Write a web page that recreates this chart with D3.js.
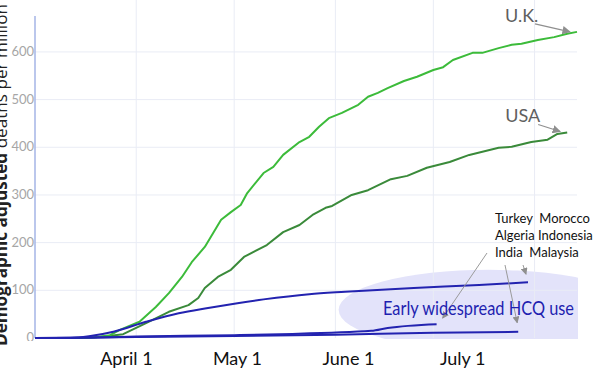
<!DOCTYPE html>
<html>
<head>
<meta charset="utf-8">
<script src="https://cdn.jsdelivr.net/npm/d3@7"></script>
<style>
  body { margin: 0; background: #fff; }
  svg { display: block; }
</style>
</head>
<body>
<div id="container"></div>
<script>
// values (deaths per million, demographic adjusted)
const uk = [
  ["2020-03-01", 0], ["2020-03-15", 0], ["2020-03-19", 1], ["2020-03-24", 6], ["2020-03-27", 17],
  ["2020-04-02", 34], ["2020-04-07", 65], ["2020-04-11", 94], ["2020-04-15", 128], ["2020-04-18", 159],
  ["2020-04-22", 191], ["2020-04-27", 248], ["2020-04-30", 264], ["2020-05-03", 279], ["2020-05-05", 304],
  ["2020-05-10", 346], ["2020-05-13", 359], ["2020-05-16", 384], ["2020-05-21", 411], ["2020-05-24", 422],
  ["2020-05-27", 443], ["2020-05-30", 461], ["2020-06-03", 472], ["2020-06-08", 489], ["2020-06-11", 506],
  ["2020-06-14", 514], ["2020-06-17", 524], ["2020-06-22", 539], ["2020-06-26", 548], ["2020-07-01", 562],
  ["2020-07-04", 568], ["2020-07-07", 583], ["2020-07-13", 598], ["2020-07-16", 598], ["2020-07-21", 608],
  ["2020-07-25", 615], ["2020-07-28", 617], ["2020-08-02", 625], ["2020-08-07", 631], ["2020-08-11", 638],
  ["2020-08-14", 642]
];
const usa = [
  ["2020-03-01", 0], ["2020-03-15", 0], ["2020-03-21", 2], ["2020-03-28", 8], ["2020-04-04", 31],
  ["2020-04-11", 55], ["2020-04-17", 69], ["2020-04-20", 84], ["2020-04-22", 105], ["2020-04-26", 128],
  ["2020-04-30", 143], ["2020-05-04", 170], ["2020-05-11", 195], ["2020-05-16", 222], ["2020-05-21", 237],
  ["2020-05-25", 258], ["2020-05-29", 273], ["2020-05-31", 277], ["2020-06-06", 300], ["2020-06-11", 310],
  ["2020-06-18", 333], ["2020-06-23", 340], ["2020-06-29", 357], ["2020-07-06", 369], ["2020-07-12", 384],
  ["2020-07-21", 399], ["2020-07-25", 401], ["2020-07-31", 411], ["2020-08-05", 416], ["2020-08-08", 428],
  ["2020-08-11", 431]
];
// early widespread HCQ countries
const hcqHigh = [
  ["2020-03-01", 0], ["2020-03-12", 0], ["2020-03-18", 4], ["2020-03-25", 13], ["2020-04-04", 34],
  ["2020-04-14", 52], ["2020-04-23", 63], ["2020-05-02", 73], ["2020-05-10", 81], ["2020-05-24", 92],
  ["2020-06-04", 97], ["2020-06-25", 105], ["2020-07-15", 111], ["2020-07-30", 117]
];
const hcqMid = [
  ["2020-03-01", 0], ["2020-03-20", 1], ["2020-04-01", 3], ["2020-05-01", 6], ["2020-05-15", 8],
  ["2020-06-12", 15], ["2020-06-17", 21], ["2020-07-02", 29]
];
const hcqLow = [
  ["2020-03-01", 0], ["2020-03-20", 1], ["2020-04-01", 2], ["2020-05-01", 4], ["2020-06-01", 7],
  ["2020-07-01", 11], ["2020-07-27", 13]
];

const yTicks = [0, 100, 200, 300, 400, 500, 600];
const xLabels = ["April 1", "May 1", "June 1", "July 1"];
const xLabelAt = ["2020-03-29", "2020-05-02", "2020-06-05", "2020-07-10"];
const countryLines = ["Turkey  Morocco", "Algeria Indonesia", "India  Malaysia"];

const w = 600;
const h = 384;
const parse = d3.timeParse("%Y-%m-%d");

const xScale = d3.scaleTime()
  .domain([parse("2020-03-01"), parse("2020-08-14")])
  .range([35, 577]);

const yScale = d3.scaleLinear()
  .domain([0, 690])
  .range([338, 9]);

const svg = d3.select("#container")
  .append("svg")
  .attr("width", w)
  .attr("height", h)
  .attr("viewBox", `0 0 ${w} ${h}`);

const defs = svg.append("defs");
defs.append("marker")
  .attr("id", "head")
  .attr("viewBox", "0 0 10 10")
  .attr("refX", 9)
  .attr("refY", 5)
  .attr("markerWidth", 7)
  .attr("markerHeight", 7)
  .attr("orient", "auto")
  .append("path")
  .attr("d", "M0,0 L10,5 L0,10 z")
  .attr("fill", "#8f8f8f");

defs.append("clipPath")
  .attr("id", "plot")
  .append("rect")
  .attr("x", 35)
  .attr("y", 0)
  .attr("width", 543)
  .attr("height", 339);

defs.append("clipPath")
  .attr("id", "ticks")
  .append("rect")
  .attr("x", 0)
  .attr("y", 0)
  .attr("width", 40)
  .attr("height", 341);

// HCQ highlight oval
svg.append("ellipse")
  .attr("clip-path", "url(#plot)")
  .attr("cx", xScale(parse("2020-07-18")))
  .attr("cy", yScale(59))
  .attr("rx", xScale(parse("2020-09-02")) - xScale(parse("2020-07-18")))
  .attr("ry", yScale(0) - yScale(84))
  .attr("fill", "#e3e3fa");

// grid
svg.append("g")
  .selectAll("line")
  .data(yTicks.slice(1))
  .join("line")
  .attr("x1", 35)
  .attr("x2", 577)
  .attr("y1", (d) => yScale(d))
  .attr("y2", (d) => yScale(d))
  .attr("stroke", "#e9ecf5")
  .attr("stroke-width", 1);

svg.append("g")
  .selectAll("line")
  .data(xScale.ticks(d3.timeMonth.every(1)).filter((d) => d.getMonth() > 2))
  .join("line")
  .attr("x1", (d) => xScale(d))
  .attr("x2", (d) => xScale(d))
  .attr("y1", 0)
  .attr("y2", 338)
  .attr("stroke", "#e9ecf5")
  .attr("stroke-width", 1);

// left axis line + tick labels
svg.append("line")
  .attr("x1", 35)
  .attr("x2", 35)
  .attr("y1", 16)
  .attr("y2", 338)
  .attr("stroke", "#a5b5e6")
  .attr("stroke-width", 1.5);

svg.append("g")
  .attr("clip-path", "url(#ticks)")
  .selectAll("text")
  .data(yTicks)
  .join("text")
  .attr("x", 34)
  .attr("y", (d) => yScale(d) + 4)
  .attr("text-anchor", "end")
  .attr("font-family", "Lato, 'Open Sans', sans-serif")
  .attr("font-size", 13)
  .attr("fill", "#a6a6a6")
  .text((d) => d);

// y title, partly cut by the left edge as in the source
const yTitle = svg.append("text")
  .attr("transform", "translate(7,346) rotate(-90)")
  .attr("font-family", "'Open Sans', 'Liberation Sans', sans-serif")
  .attr("font-size", 17)
  .attr("fill", "#222")
  .attr("textLength", 342)
  .attr("lengthAdjust", "spacingAndGlyphs");
yTitle.append("tspan").attr("font-weight", "bold").text("Demographic adjusted ");
yTitle.append("tspan").text("deaths per million");

// x labels
svg.append("g")
  .selectAll("text")
  .data(xLabels)
  .join("text")
  .attr("x", (d, i) => xScale(parse(xLabelAt[i])))
  .attr("y", 365)
  .attr("text-anchor", "middle")
  .attr("font-family", "Lato, sans-serif")
  .attr("font-size", 18)
  .attr("fill", "#111")
  .text((d) => d);

// series
const line = d3.line()
  .x((d) => xScale(parse(d[0])))
  .y((d) => yScale(d[1]));
const smooth = d3.line()
  .x((d) => xScale(parse(d[0])))
  .y((d) => yScale(d[1]))
  .curve(d3.curveMonotoneX);

const series = [
  { data: usa, color: "#3a8a3a", gen: line },
  { data: uk, color: "#3cbb3a", gen: line },
  { data: hcqLow, color: "#2323b0", gen: smooth },
  { data: hcqMid, color: "#2323b0", gen: smooth },
  { data: hcqHigh, color: "#2323b0", gen: smooth }
];

svg.append("g")
  .selectAll("path")
  .data(series)
  .join("path")
  .attr("d", (d) => d.gen(d.data))
  .attr("fill", "none")
  .attr("stroke", (d) => d.color)
  .attr("stroke-width", 2)
  .attr("stroke-linejoin", "round");

// annotations
const endPt = (s) => {
  const d = s[s.length - 1];
  return [xScale(parse(d[0])), yScale(d[1])];
};

const ann = svg.append("g").attr("font-family", "Lato, 'Open Sans', sans-serif");

const ukEnd = endPt(uk);
ann.append("text")
  .attr("x", ukEnd[0] - 72)
  .attr("y", ukEnd[1] - 10)
  .attr("font-size", 18)
  .attr("fill", "#5f5f5f")
  .text("U.K.");
ann.append("line")
  .attr("x1", ukEnd[0] - 42).attr("y1", ukEnd[1] - 8)
  .attr("x2", ukEnd[0] - 7).attr("y2", ukEnd[1])
  .attr("stroke", "#8f8f8f").attr("stroke-width", 1.2)
  .attr("marker-end", "url(#head)");

const usaEnd = endPt(usa);
ann.append("text")
  .attr("x", usaEnd[0] - 62)
  .attr("y", usaEnd[1] - 10)
  .attr("font-size", 18)
  .attr("fill", "#5f5f5f")
  .text("USA");
ann.append("line")
  .attr("x1", usaEnd[0] - 29).attr("y1", usaEnd[1] - 8)
  .attr("x2", usaEnd[0] - 7).attr("y2", usaEnd[1] - 1)
  .attr("stroke", "#8f8f8f").attr("stroke-width", 1.2)
  .attr("marker-end", "url(#head)");

ann.append("g")
  .selectAll("text")
  .data(countryLines)
  .join("text")
  .attr("x", 495)
  .attr("y", (d, i) => 223 + i * 17)
  .attr("font-size", 13)
  .attr("fill", "#111")
  .style("white-space", "pre")
  .text((d) => d);

const midEnd = endPt(hcqMid);
const lowEnd = endPt(hcqLow);
const highEnd = endPt(hcqHigh);
const arrows = [
  [487, 253, midEnd[0] + 6, midEnd[1] - 6],
  [505, 265, lowEnd[0] - 1, lowEnd[1] - 9],
  [523, 265, highEnd[0] - 2, highEnd[1] - 8]
];
ann.append("g")
  .selectAll("line")
  .data(arrows)
  .join("line")
  .attr("x1", (d) => d[0])
  .attr("y1", (d) => d[1])
  .attr("x2", (d) => d[2])
  .attr("y2", (d) => d[3])
  .attr("stroke", "#9a9a9a")
  .attr("stroke-width", 1)
  .attr("marker-end", "url(#head)");

ann.append("text")
  .attr("x", 383)
  .attr("y", 315)
  .attr("font-size", 20)
  .attr("fill", "#1f1fb0")
  .attr("textLength", 191)
  .attr("lengthAdjust", "spacingAndGlyphs")
  .text("Early widespread HCQ use");
</script>
</body>
</html>
